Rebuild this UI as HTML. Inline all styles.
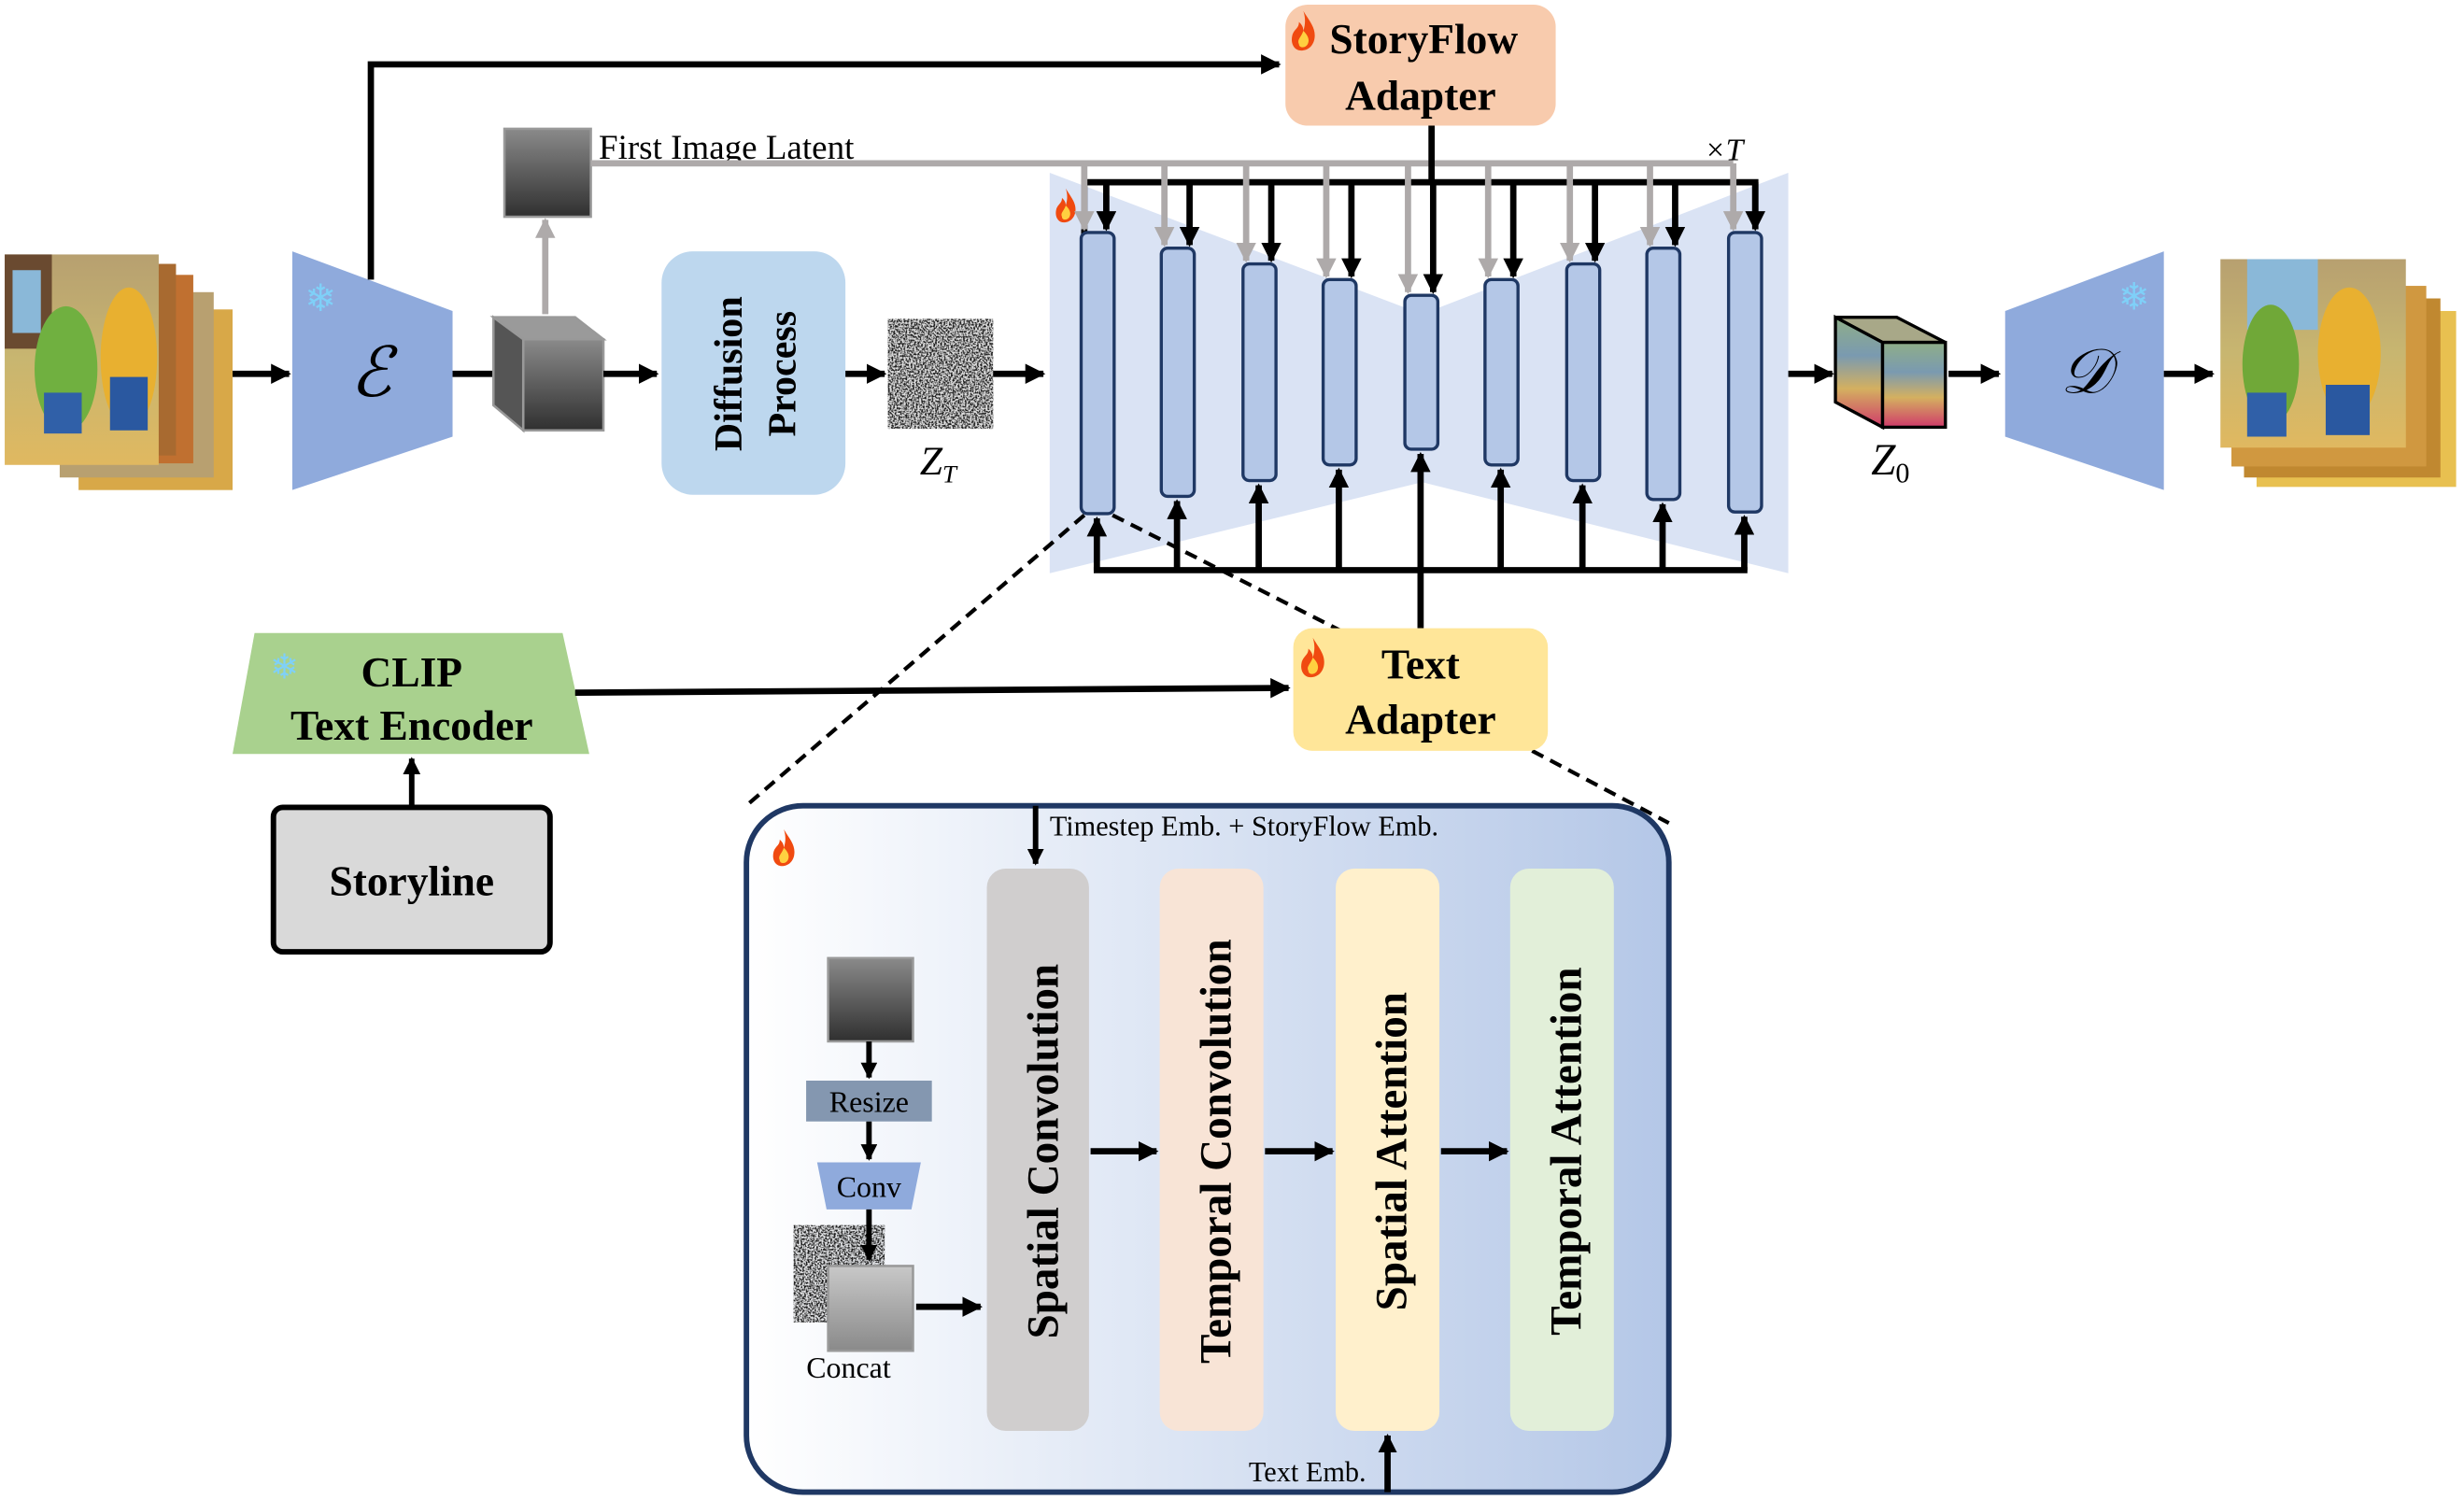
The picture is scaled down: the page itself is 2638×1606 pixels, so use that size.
<!DOCTYPE html>
<html><head><meta charset="utf-8"><style>
html,body{margin:0;padding:0;background:#fff;}
svg{display:block;}
text{font-family:"Liberation Serif",serif;}
</style></head><body>
<svg width="2638" height="1606" viewBox="0 0 1568 955" preserveAspectRatio="none" xmlns="http://www.w3.org/2000/svg">
<defs>
<marker id="ab" viewBox="0 0 10 10" refX="9" refY="5" markerWidth="3.2" markerHeight="3.2" orient="auto-start-reverse"><path d="M0,0 L10,5 L0,10 z" fill="#000"/></marker>
<marker id="ag" viewBox="0 0 10 10" refX="9" refY="5" markerWidth="3.2" markerHeight="3.2" orient="auto-start-reverse"><path d="M0,0 L10,5 L0,10 z" fill="#aeaaaa"/></marker>
<marker id="as" viewBox="0 0 10 10" refX="9" refY="5" markerWidth="3" markerHeight="3" orient="auto-start-reverse"><path d="M0,0 L10,5 L0,10 z" fill="#000"/></marker>
<linearGradient id="dk" x1="0" y1="0" x2="0" y2="1"><stop offset="0" stop-color="#8a8a8a"/><stop offset="1" stop-color="#303030"/></linearGradient>
<linearGradient id="lg" x1="0" y1="0" x2="0" y2="1"><stop offset="0" stop-color="#c8c8c8"/><stop offset="1" stop-color="#8a8a8a"/></linearGradient>
<linearGradient id="z0" x1="0" y1="0" x2="0" y2="1"><stop offset="0" stop-color="#8fae88"/><stop offset="0.35" stop-color="#7a9ab0"/><stop offset="0.65" stop-color="#d4b060"/><stop offset="1" stop-color="#d03a6a"/></linearGradient>
<linearGradient id="bx" x1="0" y1="0" x2="1" y2="0"><stop offset="0" stop-color="#ffffff"/><stop offset="1" stop-color="#b4c7e7"/></linearGradient>
<linearGradient id="im" x1="0" y1="0" x2="0" y2="1"><stop offset="0" stop-color="#b7a070"/><stop offset="0.5" stop-color="#c8b670"/><stop offset="1" stop-color="#e0b860"/></linearGradient>
<filter id="noise" x="0" y="0" width="100%" height="100%"><feTurbulence type="fractalNoise" baseFrequency="0.9" numOctaves="2" seed="3"/><feColorMatrix type="matrix" values="0 0 0 0 0  0 0 0 0 0  0 0 0 0 0  4 0 0 0 -1.6"/><feComposite operator="in" in2="SourceGraphic"/></filter>
<g id="fire"><path d="M6,0 C9,5 12,8 11,13 C10,17 7,18 5,18 C2,18 0,15 1,11 C2,8 4,8 4,5 C5,6 6,7 6,9 C7,6 7,3 6,0z" fill="#f04a10"/><path d="M6,9 C8,11 9,13 8,15 C7,17 4,17 4,15 C3,13 5,12 6,9z" fill="#ffd040"/></g>
</defs>

<!-- input frames -->
<g>
<rect x="50" y="197" width="98" height="115" fill="#d8a848"/>
<rect x="38" y="186" width="98" height="118" fill="#b8a070"/>
<rect x="25" y="175" width="98" height="120" fill="#c07030"/>
<rect x="14" y="168" width="98" height="122" fill="#a86a30"/>
<rect x="3" y="162" width="98" height="134" fill="url(#im)"/>
<rect x="3" y="162" width="30" height="60" fill="#6a4a30"/>
<rect x="8" y="172" width="18" height="40" fill="#8ab8d8"/>
<ellipse cx="42" cy="235" rx="20" ry="40" fill="#70b040"/>
<ellipse cx="82" cy="228" rx="18" ry="45" fill="#e8b030"/>
<rect x="70" y="240" width="24" height="34" fill="#2a58a0"/>
<rect x="28" y="250" width="24" height="26" fill="#3060a8"/>
</g>
<line x1="148" y1="238" x2="184" y2="238" stroke="#000" stroke-width="4" marker-end="url(#ab)"/>

<!-- encoder -->
<polygon points="186,160 288,198 288,278 186,312" fill="#8faadc"/>
<text x="236" y="252" font-size="44" font-style="italic" text-anchor="middle" font-family="DejaVu Serif,serif">ℰ</text>
<use href="#fire" transform="translate(0,0) scale(0)"/>
<text x="204" y="198" font-size="24" fill="#7fd0f8" text-anchor="middle" font-family="DejaVu Sans,sans-serif">❄</text>
<polyline points="236,178 236,41 814,41" fill="none" stroke="#000" stroke-width="4" marker-end="url(#ab)"/>
<line x1="288" y1="238" x2="314" y2="238" stroke="#000" stroke-width="4"/>

<!-- dark cube -->
<polygon points="314,202 366,202 384,216 333,216" fill="#9a9a9a" stroke="#999" stroke-width="1.5"/>
<polygon points="314,202 333,216 333,274 314,258" fill="#555" stroke="#999" stroke-width="1.5"/>
<rect x="333" y="216" width="51" height="58" fill="url(#dk)" stroke="#999" stroke-width="1.5"/>
<line x1="347" y1="200" x2="347" y2="140" stroke="#aeaaaa" stroke-width="4" marker-end="url(#ag)"/>
<rect x="321" y="82" width="55" height="56" fill="url(#dk)" stroke="#999" stroke-width="1.5"/>
<text x="381" y="101" font-size="22">First Image Latent</text>
<line x1="384" y1="238" x2="418" y2="238" stroke="#000" stroke-width="4" marker-end="url(#ab)"/>

<!-- diffusion process -->
<rect x="421" y="160" width="117" height="155" rx="20" fill="#bdd7ee"/>
<text transform="translate(472,238) rotate(-90)" font-size="25" font-weight="bold" text-anchor="middle">Diffusion</text>
<text transform="translate(506,238) rotate(-90)" font-size="25" font-weight="bold" text-anchor="middle">Process</text>
<line x1="538" y1="238" x2="563" y2="238" stroke="#000" stroke-width="4" marker-end="url(#ab)"/>
<g filter="url(#noise)"><rect x="565" y="203" width="67" height="70" fill="#fff"/></g>
<rect x="565" y="203" width="67" height="70" fill="#777" opacity="0.25"/>
<text x="597" y="302" font-size="26" font-style="italic" text-anchor="middle">Z<tspan font-size="16" dy="5">T</tspan></text>
<line x1="632" y1="238" x2="664" y2="238" stroke="#000" stroke-width="4" marker-end="url(#ab)"/>

<!-- UNet bg -->
<polygon points="668,110 905,200 905,307 668,365" fill="#dae3f4"/>
<polygon points="1138,110 905,200 905,307 1138,365" fill="#dae3f4"/>
<use href="#fire" transform="translate(671,120) scale(1.2)"/>

<!-- top lines -->
<line x1="376" y1="104" x2="1103" y2="104" stroke="#aeaaaa" stroke-width="4"/>
<polyline points="690,158 690,116 1117,116 1117,135" fill="none" stroke="#000" stroke-width="4"/>
<line x1="911" y1="80" x2="911" y2="116" stroke="#000" stroke-width="4"/>
<text x="1097" y="102" font-size="20" font-style="italic" text-anchor="middle">×T</text>

<!-- bottom lines -->
<line x1="696" y1="363" x2="1112" y2="363" stroke="#000" stroke-width="4"/>
<line x1="904" y1="400" x2="904" y2="363" stroke="#000" stroke-width="4"/>

<g stroke-width="4">
<line x1="690" y1="104" x2="690" y2="146" stroke="#aeaaaa" marker-end="url(#ag)"/><line x1="704" y1="116" x2="704" y2="146" stroke="#000" marker-end="url(#ab)"/><line x1="698" y1="363" x2="698" y2="330" stroke="#000" marker-end="url(#ab)"/>
<line x1="741" y1="104" x2="741" y2="156" stroke="#aeaaaa" marker-end="url(#ag)"/><line x1="757" y1="116" x2="757" y2="156" stroke="#000" marker-end="url(#ab)"/><line x1="749" y1="363" x2="749" y2="319" stroke="#000" marker-end="url(#ab)"/>
<line x1="793" y1="104" x2="793" y2="166" stroke="#aeaaaa" marker-end="url(#ag)"/><line x1="809" y1="116" x2="809" y2="166" stroke="#000" marker-end="url(#ab)"/><line x1="801" y1="363" x2="801" y2="309" stroke="#000" marker-end="url(#ab)"/>
<line x1="844" y1="104" x2="844" y2="176" stroke="#aeaaaa" marker-end="url(#ag)"/><line x1="860" y1="116" x2="860" y2="176" stroke="#000" marker-end="url(#ab)"/><line x1="852" y1="363" x2="852" y2="299" stroke="#000" marker-end="url(#ab)"/>
<line x1="896" y1="104" x2="896" y2="186" stroke="#aeaaaa" marker-end="url(#ag)"/><line x1="912" y1="116" x2="912" y2="186" stroke="#000" marker-end="url(#ab)"/><line x1="904" y1="363" x2="904" y2="289" stroke="#000" marker-end="url(#ab)"/>
<line x1="947" y1="104" x2="947" y2="176" stroke="#aeaaaa" marker-end="url(#ag)"/><line x1="963" y1="116" x2="963" y2="176" stroke="#000" marker-end="url(#ab)"/><line x1="955" y1="363" x2="955" y2="299" stroke="#000" marker-end="url(#ab)"/>
<line x1="999" y1="104" x2="999" y2="166" stroke="#aeaaaa" marker-end="url(#ag)"/><line x1="1015" y1="116" x2="1015" y2="166" stroke="#000" marker-end="url(#ab)"/><line x1="1007" y1="363" x2="1007" y2="309" stroke="#000" marker-end="url(#ab)"/>
<line x1="1050" y1="104" x2="1050" y2="156" stroke="#aeaaaa" marker-end="url(#ag)"/><line x1="1066" y1="116" x2="1066" y2="156" stroke="#000" marker-end="url(#ab)"/><line x1="1058" y1="363" x2="1058" y2="321" stroke="#000" marker-end="url(#ab)"/>
<line x1="1103" y1="104" x2="1103" y2="146" stroke="#aeaaaa" marker-end="url(#ag)"/><line x1="1117" y1="116" x2="1117" y2="146" stroke="#000" marker-end="url(#ab)"/><line x1="1110" y1="363" x2="1110" y2="329" stroke="#000" marker-end="url(#ab)"/>
</g>
<g fill="#b4c7e7" stroke="#1f3864" stroke-width="2">
<rect x="688" y="148" width="21" height="179" rx="4"/>
<rect x="739" y="158" width="21" height="158" rx="4"/>
<rect x="791" y="168" width="21" height="138" rx="4"/>
<rect x="842" y="178" width="21" height="118" rx="4"/>
<rect x="894" y="188" width="21" height="98" rx="4"/>
<rect x="945" y="178" width="21" height="118" rx="4"/>
<rect x="997" y="168" width="21" height="138" rx="4"/>
<rect x="1048" y="158" width="21" height="160" rx="4"/>
<rect x="1100" y="148" width="21" height="178" rx="4"/>
</g>

<!-- StoryFlow adapter -->
<rect x="818" y="3" width="172" height="77" rx="14" fill="#f8cbad"/>
<use href="#fire" transform="translate(821,7) scale(1.4)"/>
<text x="906" y="34" font-size="27" font-weight="bold" text-anchor="middle">StoryFlow</text>
<text x="904" y="70" font-size="27" font-weight="bold" text-anchor="middle">Adapter</text>

<!-- z0 and decoder -->
<line x1="1138" y1="238" x2="1166" y2="238" stroke="#000" stroke-width="4" marker-end="url(#ab)"/>
<polygon points="1168,202 1207,202 1238,218 1198,218" fill="#a8a888" stroke="#000" stroke-width="2"/>
<polygon points="1168,202 1198,218 1198,272 1168,256" fill="url(#z0)" stroke="#000" stroke-width="2"/>
<rect x="1198" y="218" width="40" height="54" fill="url(#z0)" stroke="#000" stroke-width="2"/>
<text x="1203" y="302" font-size="28" font-style="italic" text-anchor="middle">Z<tspan font-size="18" dy="5" font-style="normal">0</tspan></text>
<line x1="1240" y1="238" x2="1272" y2="238" stroke="#000" stroke-width="4" marker-end="url(#ab)"/>
<polygon points="1276,198 1377,160 1377,312 1276,278" fill="#8faadc"/>
<text x="1327" y="250" font-size="40" font-style="italic" text-anchor="middle" font-family="DejaVu Serif,serif">𝒟</text>
<text x="1358" y="197" font-size="24" fill="#7fd0f8" text-anchor="middle" font-family="DejaVu Sans,sans-serif">❄</text>
<line x1="1377" y1="238" x2="1408" y2="238" stroke="#000" stroke-width="4" marker-end="url(#ab)"/>

<!-- output frames -->
<rect x="1436" y="198" width="127" height="112" fill="#e8c050"/>
<rect x="1428" y="190" width="125" height="114" fill="#c08830"/>
<rect x="1420" y="182" width="124" height="115" fill="#d09840"/>
<rect x="1413" y="165" width="118" height="120" fill="url(#im)"/>
<rect x="1430" y="165" width="45" height="45" fill="#8ab8d8"/>
<ellipse cx="1445" cy="232" rx="18" ry="38" fill="#70a838"/>
<ellipse cx="1495" cy="225" rx="20" ry="42" fill="#e8b030"/>
<rect x="1480" y="245" width="28" height="32" fill="#2a58a0"/>
<rect x="1430" y="250" width="25" height="28" fill="#3060a8"/>

<!-- CLIP -->
<polygon points="162,403 358,403 375,480 148,480" fill="#a9d18e"/>
<text x="181" y="432" font-size="22" fill="#7fd0f8" text-anchor="middle" font-family="DejaVu Sans,sans-serif">❄</text>
<text x="262" y="437" font-size="27" font-weight="bold" text-anchor="middle">CLIP</text>
<text x="262" y="471" font-size="27" font-weight="bold" text-anchor="middle">Text Encoder</text>
<line x1="366" y1="441" x2="820" y2="438" stroke="#000" stroke-width="4" marker-end="url(#ab)"/>
<line x1="262" y1="513" x2="262" y2="483" stroke="#000" stroke-width="3.5" marker-end="url(#ab)"/>
<rect x="174" y="514" width="176" height="92" rx="6" fill="#d9d9d9" stroke="#000" stroke-width="3.5"/>
<text x="262" y="570" font-size="27" font-weight="bold" text-anchor="middle">Storyline</text>

<!-- dashed zoom lines -->
<line x1="690" y1="328" x2="476" y2="512" stroke="#000" stroke-width="2.5" stroke-dasharray="8,5"/>
<line x1="708" y1="328" x2="860" y2="405" stroke="#000" stroke-width="2.5" stroke-dasharray="8,5"/>
<line x1="975" y1="478" x2="1062" y2="524" stroke="#000" stroke-width="2.5" stroke-dasharray="8,5"/>

<!-- Text adapter -->
<rect x="823" y="400" width="162" height="78" rx="12" fill="#ffe699"/>
<use href="#fire" transform="translate(827,406) scale(1.4)"/>
<text x="904" y="432" font-size="27" font-weight="bold" text-anchor="middle">Text</text>
<text x="904" y="467" font-size="27" font-weight="bold" text-anchor="middle">Adapter</text>

<!-- detail box -->
<rect x="475" y="513" width="587" height="437" rx="36" fill="url(#bx)" stroke="#1f3864" stroke-width="3.5"/>
<use href="#fire" transform="translate(491,528) scale(1.3)"/>
<line x1="659" y1="513" x2="659" y2="550" stroke="#000" stroke-width="3.5" marker-end="url(#as)"/>
<text x="668" y="532" font-size="18">Timestep Emb. + StoryFlow Emb.</text>
<rect x="628" y="553" width="65" height="358" rx="12" fill="#d0cece"/>
<rect x="738" y="553" width="66" height="358" rx="12" fill="#f8e4d6"/>
<rect x="850" y="553" width="66" height="358" rx="12" fill="#fff0cc"/>
<rect x="961" y="553" width="66" height="358" rx="12" fill="#e2efd9"/>
<text transform="translate(673,733) rotate(-90)" font-size="28" font-weight="bold" text-anchor="middle">Spatial Convolution</text>
<text transform="translate(783,733) rotate(-90)" font-size="28" font-weight="bold" text-anchor="middle">Temporal Convolution</text>
<text transform="translate(895,733) rotate(-90)" font-size="28" font-weight="bold" text-anchor="middle">Spatial Attention</text>
<text transform="translate(1006,733) rotate(-90)" font-size="28" font-weight="bold" text-anchor="middle">Temporal Attention</text>
<line x1="694" y1="733" x2="736" y2="733" stroke="#000" stroke-width="4" marker-end="url(#ab)"/>
<line x1="805" y1="733" x2="848" y2="733" stroke="#000" stroke-width="4" marker-end="url(#ab)"/>
<line x1="917" y1="733" x2="959" y2="733" stroke="#000" stroke-width="4" marker-end="url(#ab)"/>
<line x1="883" y1="950" x2="883" y2="914" stroke="#000" stroke-width="4" marker-end="url(#as)"/>
<text x="832" y="943" font-size="18" text-anchor="middle">Text Emb.</text>

<!-- left pipeline in box -->
<rect x="527" y="610" width="54" height="53" fill="url(#dk)" stroke="#999" stroke-width="1.5"/>
<line x1="553" y1="663" x2="553" y2="686" stroke="#000" stroke-width="3.5" marker-end="url(#as)"/>
<rect x="513" y="688" width="80" height="26" fill="#8497b0"/>
<text x="553" y="708" font-size="19" text-anchor="middle">Resize</text>
<line x1="553" y1="714" x2="553" y2="738" stroke="#000" stroke-width="3.5" marker-end="url(#as)"/>
<polygon points="520,740 586,740 580,770 526,770" fill="#8faadc"/>
<text x="553" y="762" font-size="19" text-anchor="middle">Conv</text>
<g filter="url(#noise)"><rect x="505" y="780" width="58" height="62" fill="#fff"/></g>
<rect x="505" y="780" width="58" height="62" fill="#888" opacity="0.2"/>
<line x1="553" y1="770" x2="553" y2="802" stroke="#000" stroke-width="3.5" marker-end="url(#as)"/>
<rect x="527" y="806" width="54" height="54" fill="url(#lg)" stroke="#999" stroke-width="1.5"/>
<text x="540" y="877" font-size="19" text-anchor="middle">Concat</text>
<line x1="583" y1="832" x2="624" y2="832" stroke="#000" stroke-width="4" marker-end="url(#ab)"/>
</svg>
</body></html>
